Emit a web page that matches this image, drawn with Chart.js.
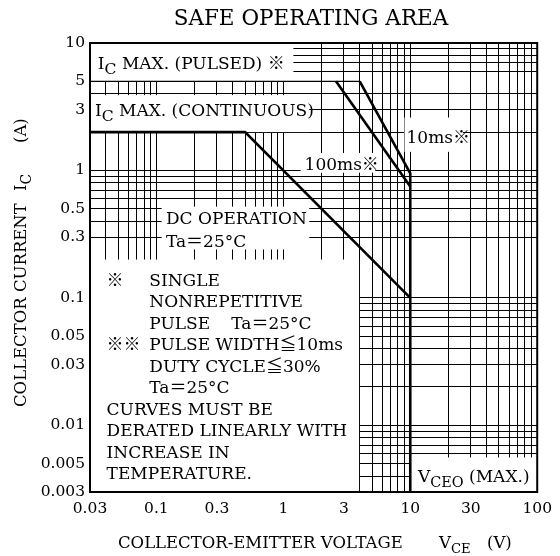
<!DOCTYPE html>
<html>
<head>
<meta charset="utf-8">
<script src="https://cdn.jsdelivr.net/npm/chart.js@4.4.1/dist/chart.umd.min.js"></script>
<style>
html, body { margin: 0; padding: 0; background: #fff; }
</style>
</head>
<body>
<canvas id="soa" width="560" height="556"></canvas>
<script>
// axis ranges and labelled ticks
var xMin = 0.03, xMax = 100;
var yMin = 0.003, yMax = 10;
var xTickLabels = [0.03, 0.1, 0.3, 1, 3, 10, 30, 100];
var yTickLabels = [0.003, 0.005, 0.01, 0.03, 0.05, 0.1, 0.3, 0.5, 1, 3, 5, 10];
var yGridHidden = [5, 0.2]; // no grid line drawn there on the sheet

// limit curves (VCE in V, IC in A)
var dcV = [0.03, 0.5, 10];
var dcI = [2, 2, 0.1];
var pulsedV = [0.03, 4];
var pulsedI = [5, 5];
var ms100V = [2.6, 10];
var ms100I = [5, 0.75];
var ms10V = [4, 10, 10];
var ms10I = [5, 0.95, 0.003];

var FONT = '"DejaVu Serif", "Noto Sans CJK JP", serif';

// white areas behind the notes: [xFrom, xTo, yFrom, yTo]
var blankBoxes = [
  [0.03, 1.2, 5, 10],
  [0.03, 1.6, 2, 3.9],
  [9, 26, 1.4, 2.6],
  [1.37, 5.3, 0.96, 1.37],
  [0.11, 1.6, 0.24, 0.52],
  [0.03, 3.95, 0.003, 0.2],
  [10, 100, 0.003, 0.0056]
];

function logGrid(min, max) {
  var out = [];
  for (var e = -3; e <= 2; e++) {
    for (var m = 1; m <= 9; m++) {
      var v = parseFloat((m * Math.pow(10, e)).toPrecision(3));
      if (v >= min * 0.999 && v <= max * 1.001) out.push(v);
    }
  }
  return out;
}

function inList(list, v) {
  return list.some(function(d) { return Math.abs(d - v) / d < 1e-6; });
}

function curve(xs, ys, w) {
  return {
    data: xs.map(function(v, i) { return { x: v, y: ys[i] }; }),
    borderColor: '#000',
    borderWidth: w,
    pointRadius: 0,
    fill: false,
    tension: 0
  };
}

// draws text with subscript parts, left aligned
function drawParts(ctx, parts, x, y, size, subScale) {
  subScale = subScale || 0.92;
  parts.forEach(function(p) {
    var s = p.sub ? size * subScale : size;
    ctx.font = s + 'px ' + FONT;
    ctx.fillText(p.t, x, y + (p.sub ? size * 0.32 : 0));
    x += ctx.measureText(p.t).width;
  });
}

var notesPlugin = {
  id: 'soaNotes',
  beforeDatasetsDraw: function(chart) {
    var ctx = chart.ctx, xs = chart.scales.x, ys = chart.scales.y;
    ctx.save();
    ctx.fillStyle = '#fff';
    blankBoxes.forEach(function(b) {
      var x0 = xs.getPixelForValue(b[0]), x1 = xs.getPixelForValue(b[1]);
      var y0 = ys.getPixelForValue(b[3]), y1 = ys.getPixelForValue(b[2]);
      ctx.fillRect(x0, y0, x1 - x0, y1 - y0);
    });
    ctx.restore();
  },
  afterDraw: function(chart) {
    var ctx = chart.ctx, a = chart.chartArea;
    var xs = chart.scales.x, ys = chart.scales.y;
    function px(v) { return xs.getPixelForValue(v); }
    function py(v) { return ys.getPixelForValue(v); }

    ctx.save();
    ctx.fillStyle = '#000';
    ctx.textBaseline = 'alphabetic';
    ctx.textAlign = 'left';

    // frame
    ctx.lineWidth = 2;
    ctx.strokeStyle = '#000';
    ctx.strokeRect(a.left, a.top, a.right - a.left, a.bottom - a.top);

    // title
    ctx.font = '21.5px ' + FONT;
    ctx.textAlign = 'center';
    ctx.fillText('SAFE OPERATING AREA', 311, 25);
    ctx.textAlign = 'left';

    // labels in the plot
    var fs = 17;
    drawParts(ctx, [{ t: 'I' }, { t: 'C', sub: true }, { t: ' MAX. (PULSED) ※' }], px(0.0346), py(6.25), fs);
    drawParts(ctx, [{ t: 'I' }, { t: 'C', sub: true }, { t: ' MAX. (CONTINUOUS)' }], px(0.0328), py(2.68), fs);
    drawParts(ctx, [{ t: '10ms※' }], px(9.35), py(1.65), fs);
    drawParts(ctx, [{ t: '100ms※' }], px(1.47), py(1.01), fs);
    drawParts(ctx, [{ t: 'DC OPERATION' }], px(0.119), py(0.38), fs);
    drawParts(ctx, [{ t: 'Ta＝25°C' }], px(0.119), py(0.252), fs);
    drawParts(ctx, [{ t: 'V' }, { t: 'CEO', sub: true }, { t: ' (MAX.)' }], px(11.5), py(0.00362), fs, 0.85);

    // notes block
    var nx = px(0.0405), ix = px(0.088), ny = py(0.124), lh = 21.5;
    var notes = [
      ['※', 'SINGLE'],
      ['', 'NONREPETITIVE'],
      ['', 'PULSE'],
      ['※※', 'PULSE WIDTH≦10ms'],
      ['', 'DUTY CYCLE≦30%'],
      ['', 'Ta＝25°C'],
      ['CURVES MUST BE'],
      ['DERATED LINEARLY WITH'],
      ['INCREASE IN'],
      ['TEMPERATURE.']
    ];
    ctx.font = fs + 'px ' + FONT;
    notes.forEach(function(n, i) {
      var y = ny + i * lh;
      if (n.length === 1) {
        ctx.fillText(n[0], nx, y);
      } else {
        if (n[0]) ctx.fillText(n[0], nx, y);
        ctx.fillText(n[1], ix, y);
      }
    });
    ctx.fillText('Ta＝25°C', ix + 82, ny + 2 * lh);

    // axis titles
    var ts = 16.5;
    drawParts(ctx, [{ t: 'COLLECTOR-EMITTER VOLTAGE' }], 118, 548, ts);
    drawParts(ctx, [{ t: 'V' }, { t: 'CE', sub: true }], 439, 548, ts, 0.8);
    drawParts(ctx, [{ t: '(V)' }], 487, 548, ts);

    ctx.translate(26, 407);
    ctx.rotate(-Math.PI / 2);
    drawParts(ctx, [{ t: 'COLLECTOR CURRENT' }], 0, 0, ts);
    drawParts(ctx, [{ t: 'I' }, { t: 'C', sub: true }], 216, 0, ts, 0.85);
    drawParts(ctx, [{ t: '(A)' }], 264, 0, ts);
    ctx.restore();
  }
};

new Chart(document.getElementById('soa'), {
  type: 'line',
  data: {
    datasets: [
      curve(dcV, dcI, 2.6),
      curve(pulsedV, pulsedI, 1.2),
      curve(ms100V, ms100I, 2.6),
      curve(ms10V, ms10I, 2.6)
    ]
  },
  options: {
    responsive: false,
    animation: false,
    devicePixelRatio: 1,
    layout: { padding: { left: 0, right: 18, top: 43, bottom: 0 } },
    plugins: { legend: { display: false }, tooltip: { enabled: false } },
    scales: {
      x: {
        type: 'logarithmic',
        min: xMin,
        max: xMax,
        afterBuildTicks: function(s) {
          s.ticks = logGrid(xMin, xMax).map(function(v) { return { value: v }; });
        },
        afterFit: function(s) { s.height = 64; },
        border: { display: false },
        grid: { color: '#000', lineWidth: 1, drawTicks: false },
        ticks: {
          autoSkip: false,
          maxRotation: 0,
          padding: 8,
          color: '#000',
          font: { family: FONT, size: 15.5 },
          callback: function(v) { return inList(xTickLabels, v) ? String(v) : ''; }
        }
      },
      y: {
        type: 'logarithmic',
        min: yMin,
        max: yMax,
        afterBuildTicks: function(s) {
          s.ticks = logGrid(yMin, yMax).map(function(v) { return { value: v }; });
        },
        afterFit: function(s) { s.width = 90; },
        border: { display: false },
        grid: {
          lineWidth: 1,
          drawTicks: false,
          color: function(c) {
            return c.tick && inList(yGridHidden, c.tick.value) ? 'rgba(0,0,0,0)' : '#000';
          }
        },
        ticks: {
          autoSkip: false,
          padding: 5,
          color: '#000',
          font: { family: FONT, size: 15.5 },
          callback: function(v) { return inList(yTickLabels, v) ? String(v) : ''; }
        }
      }
    }
  },
  plugins: [notesPlugin]
});
</script>
</body>
</html>
